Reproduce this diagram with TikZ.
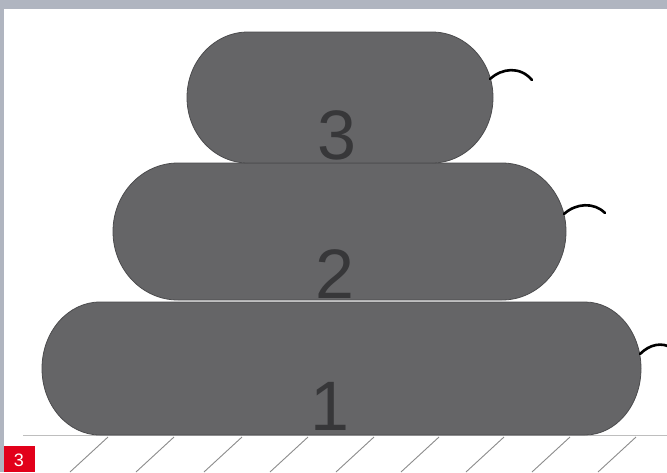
\documentclass[tikz,border=0pt]{standalone}
\usepackage{fontspec}
\setmainfont{Liberation Sans}
\definecolor{band}{RGB}{176,181,192}
\definecolor{cush}{RGB}{101,101,103}
\definecolor{cushline}{RGB}{75,75,77}
\definecolor{numc}{RGB}{55,55,57}
\definecolor{redbox}{RGB}{226,0,26}
\definecolor{groundc}{RGB}{190,190,190}
\definecolor{hatchc}{RGB}{140,140,140}
\begin{document}
\begin{tikzpicture}[x=1pt,y=-1pt,
  cushion/.style={fill=cush,draw=cushline,line width=0.8pt},
  numlabel/.style={text=numc,font=\fontsize{70}{70}\selectfont,anchor=base,inner sep=0pt},
  valve/.style={draw=black,line width=2.6pt,line cap=round},
  hatch/.style={draw=hatchc,line width=0.9pt}]
\useasboundingbox (0,0) rectangle (667,472);
\fill[white] (0,0) rectangle (667,472);
% frame
\fill[band] (0,0) rectangle (667,9);
\fill[band] (0,0) rectangle (3.5,472);
% ground
\draw[draw=groundc,line width=1.2pt] (23,435.5) coordinate (g0) -- (667,435.5) coordinate (g1);
\foreach \x in {108,174,242,308,374,439,504,570,636}{
  \draw[hatch] (\x,437) -- ++(-38,35);
}
% cushion 1
\draw[cushion] (100,302) -- (585,302) arc[start angle=-90,end angle=90,x radius=56,y radius=66.5]
  -- (100,435) arc[start angle=90,end angle=270,x radius=58,y radius=66.5] -- cycle;
% cushion 2
\draw[cushion] (178,163) -- (502,163) arc[start angle=-90,end angle=90,x radius=64,y radius=68.5]
  -- (178,300) arc[start angle=90,end angle=270,x radius=65,y radius=68.5] -- cycle;
% cushion 3
\draw[cushion] (248,32) -- (432,32) arc[start angle=-90,end angle=90,x radius=61,y radius=65.5]
  -- (248,163) arc[start angle=90,end angle=270,x radius=61,y radius=65.5] -- cycle;
% valves
\coordinate (v3a) at (490,79); \coordinate (v3b) at (532,80);
\draw[valve] (v3a) .. controls (502,68) and (520,66) .. (v3b);
\coordinate (v2a) at (564,214); \coordinate (v2b) at (605,213);
\draw[valve] (v2a) .. controls (576,203) and (594,202) .. (v2b);
\coordinate (v1a) at (640,354); \coordinate (v1b) at (672,348);
\draw[valve] (v1a) .. controls (650,344) and (662,342) .. (v1b);
% labels
\node[numlabel] (n3) at (337,159) {3};
\node[numlabel] (n2) at (335,298) {2};
\node[numlabel] (n1) at (330,430) {1};
% red box
\fill[redbox] (3.5,446) rectangle (35,472);
\node[text=white,font=\fontsize{18}{18}\selectfont,inner sep=0pt] (tag) at (19,460.5) {3};
\end{tikzpicture}
\end{document}
